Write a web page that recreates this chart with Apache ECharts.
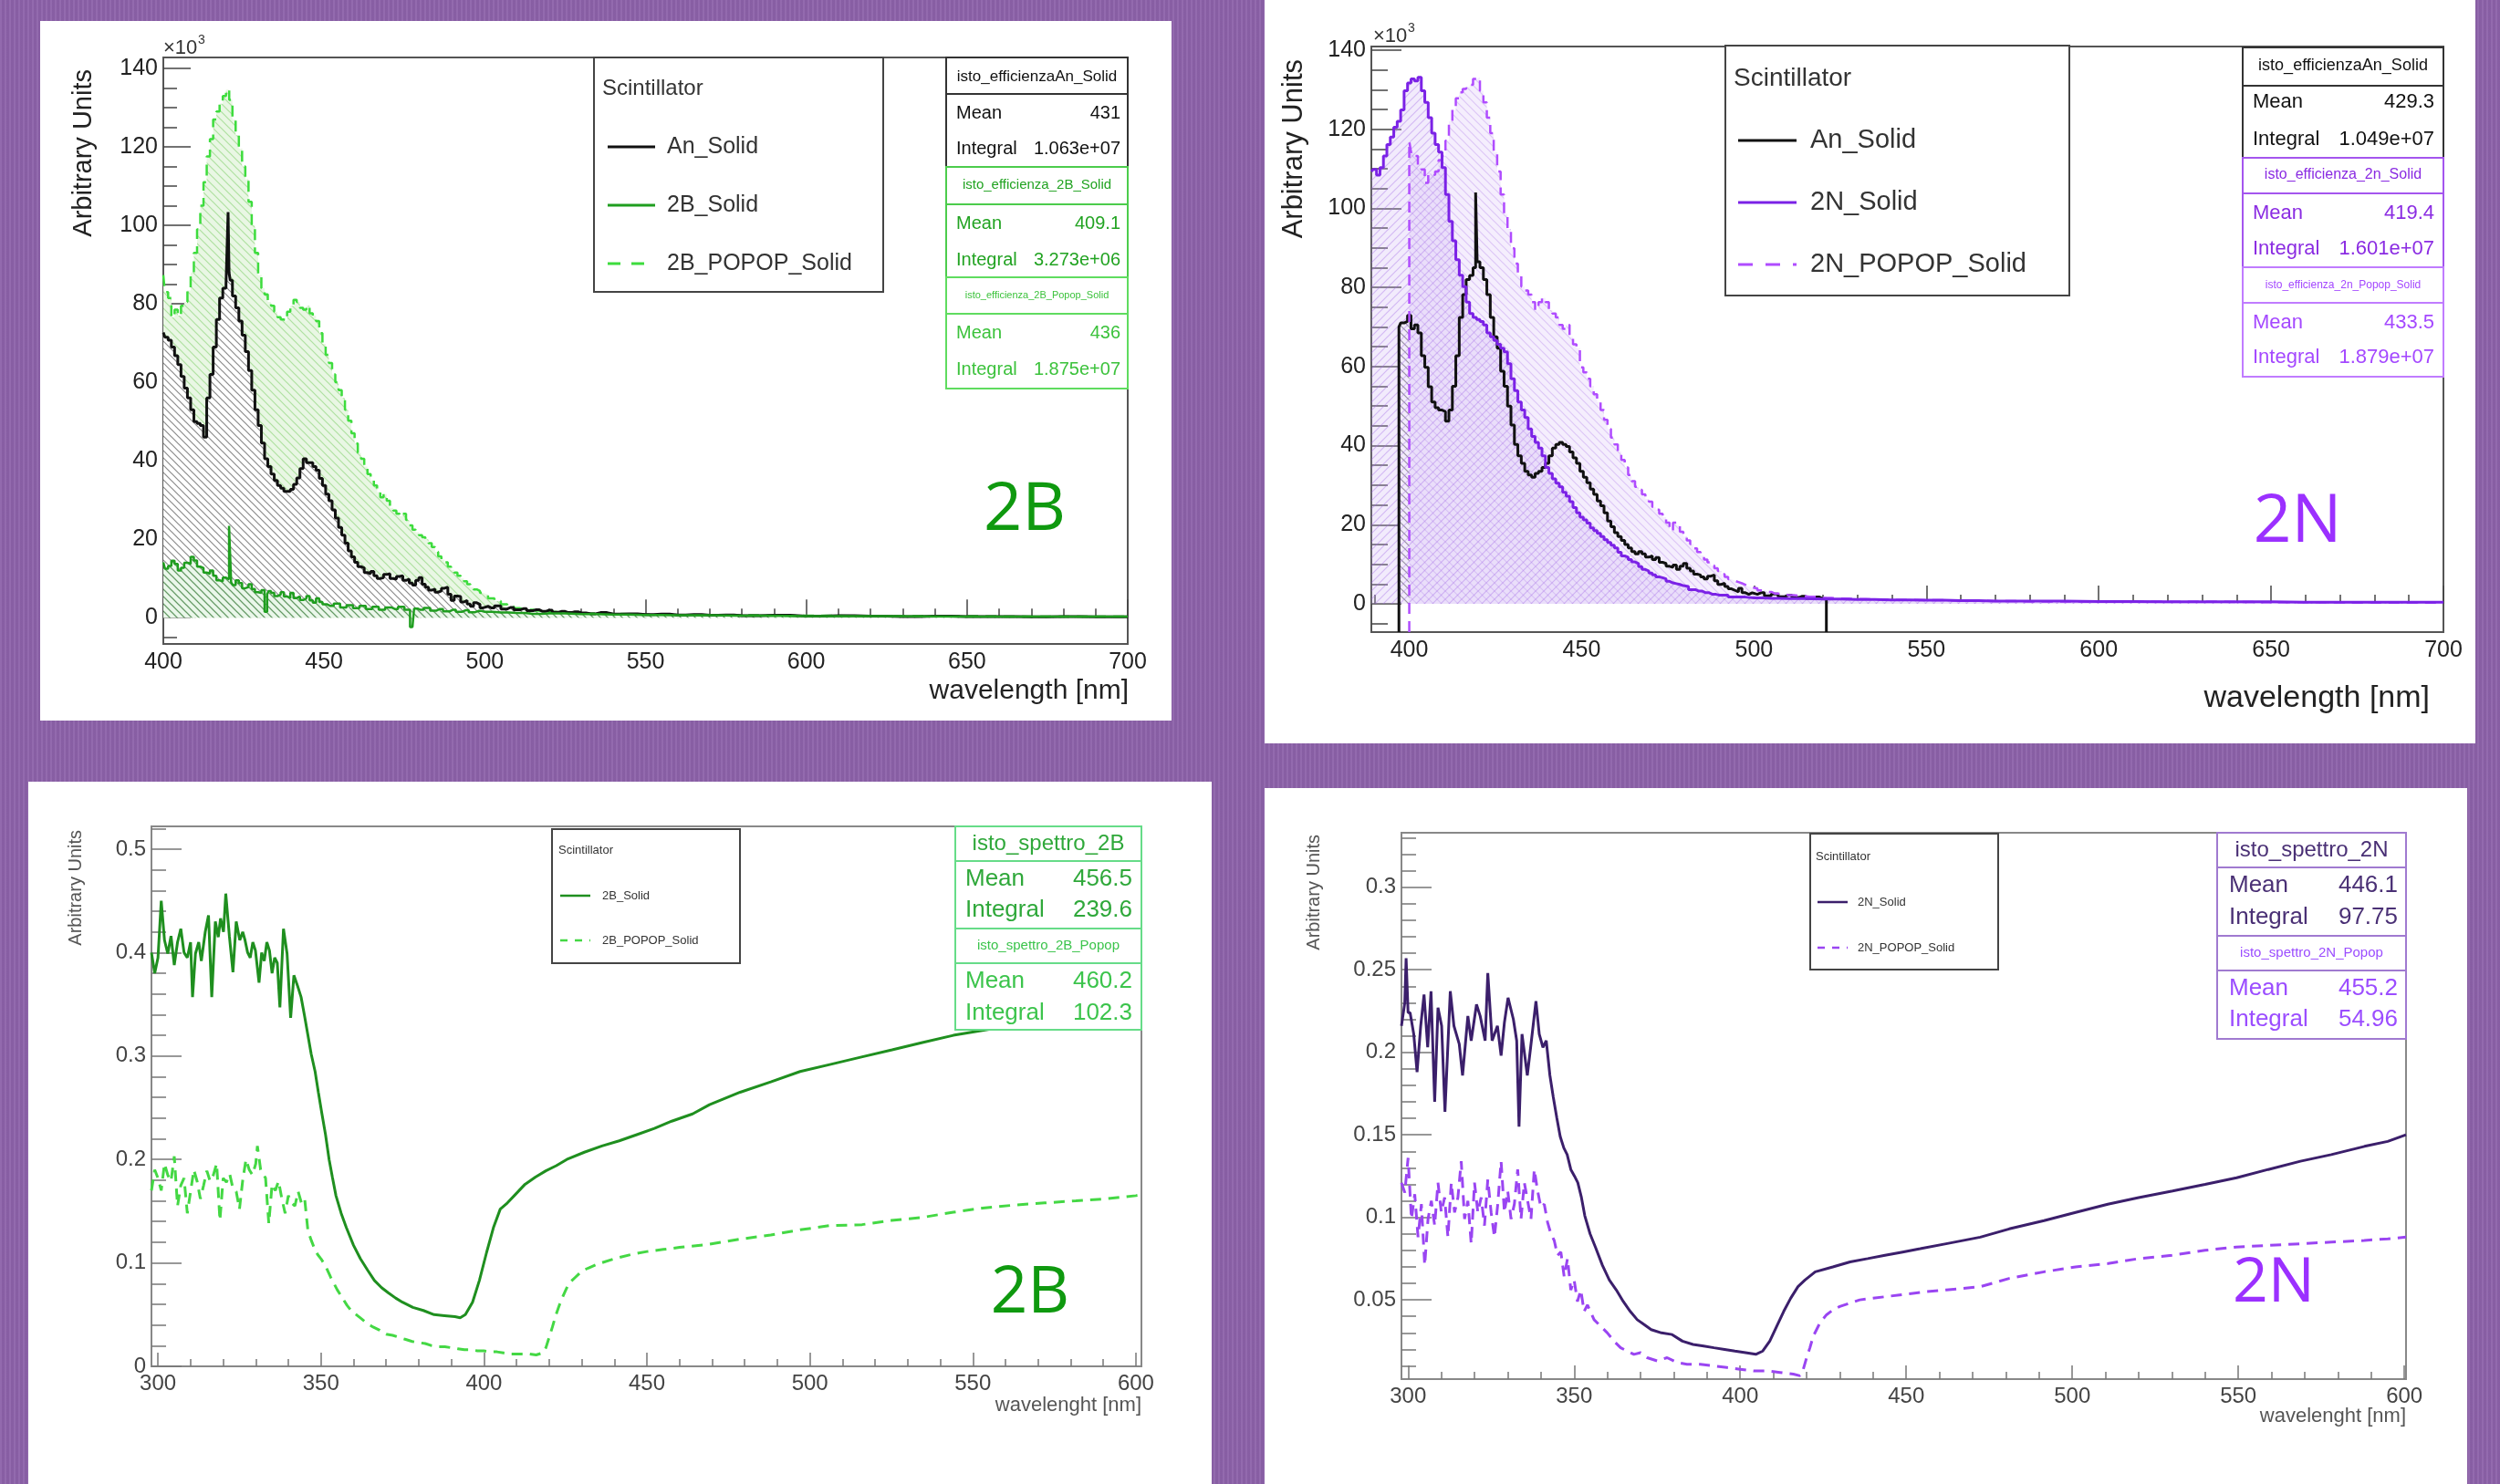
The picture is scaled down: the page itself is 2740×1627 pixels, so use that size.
<!DOCTYPE html>
<html>
<head>
<meta charset="utf-8">
<script src="https://cdn.jsdelivr.net/npm/echarts@6/dist/echarts.min.js"></script>
<style>
  html, body { margin: 0; padding: 0; }
  body {
    width: 2740px; height: 1627px; position: relative; overflow: hidden;
    background-color: #8d62aa;
    background-image: repeating-linear-gradient(90deg, rgba(255,255,255,0.05) 0px, rgba(255,255,255,0.05) 2px, rgba(0,0,0,0.04) 2px, rgba(0,0,0,0.04) 5px);
  }
  .panel { position: absolute; background: #fff; }
</style>
</head>
<body>
<div id="tl" class="panel" style="left:44px;top:23px;width:1240px;height:767px"></div>
<div id="tr" class="panel" style="left:1386px;top:0px;width:1327px;height:815px"></div>
<div id="bl" class="panel" style="left:31px;top:857px;width:1297px;height:770px"></div>
<div id="br" class="panel" style="left:1386px;top:864px;width:1318px;height:763px"></div>
<script>
// ---- tick labels ----
const effXLabels = [400, 450, 500, 550, 600, 650, 700];
const effYLabels = [0, 20, 40, 60, 80, 100, 120, 140];
const specXLabels = [300, 350, 400, 450, 500, 550, 600];
const spec2BYLabels = [0, 0.1, 0.2, 0.3, 0.4, 0.5];
const spec2NYLabels = [0.05, 0.1, 0.15, 0.2, 0.25, 0.3];

// ---- efficiency spectra, 2B panel (x10^3) [wavelength nm, value] ----
const tlAnSolid = [[400,72.7],[401,71.5],[402,70.7],[403,69],[404,66.8],[405,64.5],[406,61.5],[407,58.5],[408,56],[409,53],[410,50],[411,49.5],[412,49],[413,46],[414,56],[415,62],[416,69],[417,76],[418,81.5],[419,84],[420,85],[420.3,103.4],[420.6,88],[421,86],[422,82],[423,79],[424,75.6],[425,72],[426,67.8],[427,63],[428,58],[429,53],[430,49],[431,44.5],[432,40.5],[433,38.5],[434,36.6],[435,35],[436,33.7],[437,33],[438,32.2],[439,32.2],[440,32.7],[441,34],[442,35.6],[443,38],[444,40.5],[445,39.5],[446,39.5],[447,38.5],[448,37.6],[449,35.5],[450,33.7],[451,31.5],[452,29.8],[453,27.5],[454,25.4],[455,23],[456,21],[457,19],[458,17],[459,15.5],[460,14.1],[461,13],[462,12.7],[463,11.5],[464,11.2],[465,11.8],[466,10.7],[467,10],[468,10.2],[469,11],[470,11.2],[471,10],[472,9.8],[473,10.5],[474,10.7],[475,9.5],[476,9.8],[477,8.8],[478,8.3],[479,9.5],[480,10.2],[481,8.5],[482,7.8],[483,7],[484,7.3],[485,6.5],[486,6.8],[487,7.5],[488,7.8],[489,6],[490,4.4],[491,5.5],[492,5.4],[493,4],[494,4.4],[495,3.5],[496,2.9],[497,3.8],[498,3.4],[499,2.5],[500,2.9],[502,2.5],[504,3],[506,2.2],[508,2.6],[510,2],[512,2.3],[514,1.8],[516,2],[518,1.6],[520,1.9],[522,1.4],[524,1.6],[526,1.3],[528,1.5],[530,1.2],[533,1],[536,1.3],[540,0.9],[545,1],[550,0.8],[555,0.9],[560,0.7],[565,0.8],[570,0.6],[575,0.7],[580,0.5],[590,0.6],[600,0.4],[610,0.5],[620,0.4],[630,0.3],[640,0.4],[650,0.3],[660,0.3],[670,0.2],[680,0.3],[690,0.2],[700,0.2]];
const tl2BSolid = [[400,14.1],[401,12.5],[402,13.2],[403,14.5],[404,13.7],[405,12],[406,12.7],[407,14],[408,13.7],[409,15.5],[410,14.6],[411,13],[412,12.7],[413,11.5],[414,11.2],[415,12],[416,10.7],[417,9.5],[418,9.3],[419,10.2],[420,9.8],[420.9,23.4],[421.3,9],[422,8.3],[423,9.5],[424,8.8],[425,7.5],[426,7.8],[427,8.5],[428,7.3],[429,6.5],[430,6.3],[431,7],[432,1.5],[432.6,6],[433,6.8],[434,6.3],[435,5.5],[436,5.9],[437,6.5],[438,5.4],[439,5],[440,6.3],[441,5],[442,5.4],[443,4.5],[444,4.9],[445,5.5],[446,4.4],[447,3.8],[448,4.9],[449,4],[450,3.4],[452,3],[454,3.6],[456,2.6],[458,3.2],[460,2.4],[462,3],[464,2.2],[466,2.8],[468,2],[470,2.6],[472,2.2],[474,2.8],[476,2],[477.5,-2.4],[478.5,2.3],[480,2],[482,2.5],[484,1.8],[486,2.2],[488,1.6],[490,2],[492,1.5],[494,1.9],[496,1.4],[498,1.7],[500,1.5],[505,1.3],[510,1.2],[515,1],[520,1.1],[530,0.9],[540,0.8],[550,0.7],[560,0.6],[580,0.5],[600,0.4],[650,0.3],[700,0.3]];
const tl2BPopop = [[400,87.3],[401,83],[402,81.5],[403,76.6],[404,78.5],[405,77],[406,79.5],[407,80.5],[408,83.4],[409,88],[410,93],[411,99],[412,105],[413,111],[414,117.6],[415,122],[416,127],[417,129],[418,131],[419,133],[420,134.6],[421,132],[422,127],[423,123],[424,119.5],[425,115],[426,111.7],[427,106],[428,100],[429,93],[430,87.3],[431,84],[432,82.4],[433,80.5],[434,79.5],[435,78],[436,76.6],[437,76],[438,75.6],[439,78],[440,79.5],[441,81],[442,80.5],[443,79],[444,78.5],[445,79.5],[446,77.6],[447,77],[448,75.6],[449,72.5],[450,69.8],[451,67],[452,64.9],[453,62],[454,60],[455,58],[456,56],[457,53],[458,50.2],[459,47],[460,44.4],[461,42],[462,40.5],[463,38.5],[464,36.6],[465,35],[466,33.7],[467,32],[468,30.7],[469,31.5],[470,29.8],[471,28],[472,27.3],[473,26.5],[474,25.9],[475,26.5],[476,24.9],[477,23.5],[478,22.4],[479,21.8],[480,21],[481,20.5],[482,20],[483,19],[484,18],[485,16.8],[486,15.6],[487,14.8],[488,14.1],[489,13],[490,12.2],[491,11.5],[492,10.7],[493,10],[494,9.3],[495,8.5],[496,7.8],[497,7.2],[498,6.8],[499,6.3],[500,5.9],[502,4.9],[504,4.2],[506,3.4],[508,2.9],[510,2.4],[512,2.2],[514,2],[516,1.8],[518,1.7],[520,1.5],[524,1.3],[528,1.2],[532,1.1],[536,1],[540,1],[545,0.9],[550,0.8],[555,0.8],[560,0.7],[570,0.6],[580,0.6],[590,0.5],[600,0.5],[620,0.4],[640,0.4],[660,0.3],[680,0.3],[700,0.3]];

// ---- efficiency spectra, 2N panel (x10^3) ----
const trAnSolid = [[397,70],[398,71],[399,71.4],[400,72.9],[401,69.5],[402,70.5],[403,68.5],[404,62.7],[405,59.8],[406,54.9],[407,51],[408,49.6],[409,49],[410,48.6],[411,46.2],[412,49],[413,55],[414,62.7],[415,72.4],[416,78.2],[417,82],[418,83],[419,85],[419.5,104],[419.9,86.5],[420,86.5],[421,85],[422,82],[423,78.2],[424,72.4],[425,67.5],[426,64.6],[427,58.8],[428,55],[429,50],[430,45.2],[431,40.3],[432,37.4],[433,35.5],[434,33.5],[435,32.6],[436,32],[437,33],[438,33.5],[439,34.5],[440,35.5],[441,37.4],[442,39.4],[443,40.3],[444,40.8],[445,40.3],[446,39.8],[447,38.4],[448,36.9],[449,35.5],[450,33.5],[451,32],[452,30.6],[453,29],[454,27.7],[455,26],[456,24.8],[457,23],[458,20.9],[459,19.5],[460,18],[461,17],[462,16],[463,15],[464,14.1],[465,13.2],[466,12.6],[467,13.2],[468,12.6],[469,11.8],[470,12.1],[471,11.2],[472,11.7],[473,10.5],[474,10.2],[475,9.5],[476,9.2],[477,9.8],[478,8.7],[479,9.5],[480,10.2],[481,9],[482,8.3],[483,7.5],[484,7.3],[485,6.8],[486,6.3],[487,7],[488,7.3],[489,5.8],[490,4.9],[491,5.2],[492,4.4],[493,3.8],[494,3.4],[495,3],[496,3.9],[497,2.8],[498,2.4],[499,2.8],[500,2.4],[502,2.8],[504,2],[506,2.5],[508,1.8],[510,2.2],[512,1.6],[514,1.9],[516,1.4],[518,1.7],[520,1.3],[521,1.3]];
const tr2NSolid = [[389,109.3],[390,109.8],[391,108.4],[392,110.3],[393,113.2],[394,116.1],[395,118],[396,120.5],[397,122],[398,124.9],[399,129.7],[400,131.7],[401,132.7],[402,132.2],[403,133.1],[404,129.7],[405,126.8],[406,122.9],[407,119],[408,116.1],[409,114.2],[410,110.3],[411,103.5],[412,96.7],[413,91.8],[414,87],[415,83.1],[416,80.2],[417,76.3],[418,73.4],[419,72.4],[420,71.9],[421,71.4],[422,70.5],[423,68.5],[424,67.5],[425,66.6],[426,65.6],[427,64.6],[428,63.7],[429,60.7],[430,56.9],[431,53.9],[432,51],[433,49],[434,47.1],[435,44.2],[436,42.3],[437,40.8],[438,39.4],[439,37.4],[440,34.5],[441,33],[442,31.6],[443,30.5],[444,29.6],[445,28.2],[446,27.2],[447,25.8],[448,24.3],[449,23],[450,21.9],[451,21.2],[452,20.4],[453,19.2],[454,18.5],[455,17.8],[456,17],[457,16.2],[458,15.5],[459,14.8],[460,14.1],[461,13],[462,12.1],[463,11.8],[464,11.2],[465,10.6],[466,10.2],[467,9.4],[468,8.7],[469,8.3],[470,7.8],[471,7.3],[472,6.8],[473,6.6],[474,6.3],[475,5.7],[476,5.3],[477,5.1],[478,4.9],[479,4.6],[480,4.4],[482,3.6],[484,3.2],[486,2.8],[488,2.4],[490,2.2],[495,1.7],[500,1.5],[505,1.4],[510,1.3],[520,1.2],[530,1.1],[540,1],[550,0.9],[560,0.8],[570,0.7],[580,0.7],[600,0.6],[620,0.5],[640,0.5],[660,0.4],[680,0.4],[700,0.4]];
const tr2NPopop = [[400,117],[401,114.2],[402,113.2],[403,110.3],[404,109.8],[405,106.4],[406,108.8],[407,108.4],[408,109.3],[409,112.2],[410,113.2],[411,117.1],[412,122],[413,124.9],[414,127.8],[415,129.3],[416,130.2],[417,130.7],[418,131.2],[419,132.7],[420,133.1],[421,129.7],[422,126.8],[423,122.9],[424,119],[425,114.2],[426,109.3],[427,103.5],[428,98.6],[429,94.8],[430,89.9],[431,86],[432,83.1],[433,80.2],[434,79.2],[435,78.2],[436,76.3],[437,74.3],[438,76.3],[439,77.3],[440,76.3],[441,74.3],[442,73.4],[443,72.4],[444,70.5],[445,69.5],[446,70.5],[447,67.5],[448,65.6],[449,64.6],[450,59.8],[451,58.5],[452,56.9],[453,55],[454,53],[455,51],[456,49],[457,46.5],[458,44.2],[459,42],[460,40.3],[461,38.5],[462,36.4],[463,34.5],[464,32.6],[465,31],[466,29.6],[467,28.8],[468,27.7],[469,26.5],[470,25.8],[471,24.5],[472,23.8],[473,22.8],[474,21.9],[475,20.5],[476,18.5],[477,20.5],[478,19.9],[479,18.2],[480,17],[481,16],[482,15.1],[483,14],[484,13.1],[485,12.2],[486,11.2],[487,10.5],[488,9.7],[489,9],[490,8.3],[491,7.5],[492,6.8],[493,6.2],[494,5.8],[495,5.5],[496,5.2],[497,4.8],[498,4.4],[499,4.1],[500,3.9],[502,3.4],[504,3],[506,2.6],[508,2.4],[510,2.2],[513,2],[516,1.8],[520,1.5],[525,1.3],[530,1.2],[535,1.1],[540,1],[550,0.9],[560,0.8],[570,0.7],[580,0.6],[600,0.5],[620,0.5],[650,0.4],[675,0.3],[700,0.3]];

// ---- transmission spectra, 2B panel ----
const bl2BSolid = [[298,0.4],[299,0.38],[300,0.395],[301,0.45],[302,0.412],[303,0.399],[304,0.416],[305,0.388],[306,0.41],[307,0.423],[308,0.4],[309,0.395],[310,0.41],[310.6,0.357],[311.5,0.399],[312.5,0.41],[313.3,0.392],[314.5,0.42],[315.5,0.436],[316.5,0.357],[317.6,0.43],[318.5,0.415],[319.2,0.433],[320.1,0.42],[320.8,0.457],[321.9,0.416],[323,0.381],[324,0.43],[325.1,0.412],[326,0.42],[326.7,0.412],[327.5,0.4],[328.3,0.395],[329.1,0.41],[329.9,0.402],[331,0.371],[331.8,0.4],[332.6,0.392],[333.4,0.41],[334.2,0.402],[335,0.38],[335.8,0.395],[336.6,0.39],[337.4,0.347],[338.5,0.423],[339.6,0.399],[340.7,0.337],[341.7,0.378],[342.8,0.368],[343.9,0.357],[344.9,0.34],[346,0.32],[347,0.302],[348.2,0.285],[349.2,0.265],[350.3,0.244],[351.4,0.224],[352.5,0.2],[353.5,0.183],[354.6,0.165],[356.2,0.148],[357.8,0.134],[360,0.117],[362.1,0.104],[364.3,0.093],[366.4,0.083],[368.6,0.076],[370.7,0.071],[372.9,0.066],[375,0.062],[378.2,0.057],[381.4,0.054],[384.7,0.05],[387.9,0.049],[391.1,0.048],[392.7,0.047],[394.3,0.05],[396.5,0.062],[398.6,0.083],[400.8,0.11],[402.9,0.134],[405,0.152],[407.2,0.158],[409.3,0.165],[412.6,0.176],[415.8,0.183],[419,0.189],[422.2,0.194],[425.4,0.2],[430.8,0.207],[436.2,0.213],[441.5,0.218],[446.9,0.224],[452.3,0.23],[457.6,0.237],[464,0.244],[469.2,0.253],[478.6,0.265],[488,0.275],[497,0.285],[506.4,0.292],[515.8,0.299],[525.2,0.306],[534.5,0.313],[544,0.32],[553.3,0.325],[565,0.331],[580,0.336],[590,0.34],[601.7,0.345]];
const bl2BPopop = [[298,0.17],[299,0.19],[300,0.182],[301,0.17],[302,0.196],[303,0.185],[304,0.179],[305,0.203],[306,0.155],[307,0.175],[308,0.182],[309,0.148],[310,0.169],[311,0.19],[312,0.179],[313,0.162],[314,0.175],[315,0.189],[316,0.179],[317,0.185],[318,0.196],[319,0.141],[320,0.182],[321,0.178],[322,0.186],[323,0.172],[324,0.169],[325,0.152],[326,0.18],[327,0.2],[328,0.19],[329,0.185],[330,0.196],[330.5,0.213],[331.5,0.19],[332,0.189],[333,0.182],[334,0.138],[335,0.176],[336,0.17],[337,0.179],[338,0.162],[339,0.148],[340,0.165],[341,0.158],[342,0.155],[343,0.169],[344,0.158],[345,0.162],[346,0.131],[347,0.122],[348,0.114],[349,0.108],[350,0.104],[351,0.099],[352,0.093],[353,0.086],[354,0.08],[355,0.074],[356,0.069],[357,0.064],[358,0.059],[359,0.055],[360,0.052],[362,0.047],[364,0.042],[366,0.038],[368,0.035],[370,0.031],[372,0.03],[374,0.028],[376,0.026],[378,0.024],[380,0.023],[382,0.022],[384,0.02],[386,0.019],[388,0.019],[390,0.018],[392,0.017],[394,0.016],[396,0.016],[398,0.015],[400,0.015],[402,0.014],[404,0.014],[406,0.013],[408,0.012],[410,0.012],[412,0.012],[414,0.012],[416,0.011],[418,0.013],[419,0.018],[420,0.028],[421,0.038],[422,0.049],[423,0.058],[424,0.066],[425,0.073],[426,0.08],[427,0.083],[428,0.086],[429,0.089],[430,0.092],[432,0.095],[435,0.099],[440,0.104],[445,0.108],[450,0.111],[455,0.113],[460,0.115],[469,0.118],[478.6,0.123],[488,0.127],[497,0.132],[506,0.136],[516,0.137],[525,0.141],[534.5,0.144],[544,0.149],[553,0.153],[563,0.156],[572,0.158],[581.6,0.16],[591,0.162],[600,0.165],[601.7,0.166]];

// ---- transmission spectra, 2N panel ----
const br2NSolid = [[298,0.216],[299,0.23],[299.4,0.257],[300,0.224],[300.6,0.224],[301.7,0.211],[302.7,0.188],[303.8,0.216],[304.8,0.235],[305.9,0.203],[306.9,0.237],[308,0.17],[309,0.227],[310.1,0.216],[311.1,0.164],[312.7,0.237],[313.8,0.216],[315.4,0.205],[316.4,0.186],[318,0.222],[319,0.207],[320.6,0.229],[321.7,0.222],[323.2,0.207],[324,0.248],[325.3,0.207],[326.9,0.216],[328,0.198],[329,0.218],[330.1,0.233],[331.7,0.22],[332.7,0.207],[333.4,0.155],[334.3,0.211],[335.9,0.186],[336.9,0.203],[338.5,0.231],[339.5,0.211],[340.6,0.203],[341.6,0.207],[342.7,0.186],[343.7,0.173],[344.8,0.16],[345.8,0.149],[346.9,0.142],[347.9,0.138],[349,0.129],[350.1,0.125],[351.1,0.121],[352.2,0.112],[353.2,0.101],[354.8,0.09],[356.4,0.082],[358.5,0.071],[360.6,0.062],[362.7,0.056],[364.8,0.049],[366.9,0.043],[369,0.038],[371.1,0.035],[373.2,0.032],[376.3,0.03],[379.5,0.029],[382.6,0.025],[385.8,0.023],[389,0.022],[392.1,0.021],[395.3,0.02],[398.4,0.019],[401.6,0.018],[404.7,0.017],[406.8,0.019],[408.9,0.025],[411,0.034],[413.1,0.043],[415.2,0.051],[417.4,0.058],[419.5,0.062],[422.6,0.067],[427.9,0.07],[433.1,0.073],[438.4,0.075],[443.6,0.077],[448.9,0.079],[454.2,0.081],[462,0.084],[472.3,0.088],[481,0.093],[491.5,0.098],[501,0.103],[510.7,0.108],[520,0.112],[530.2,0.116],[540,0.12],[549.5,0.124],[559,0.129],[568.7,0.134],[578,0.138],[588,0.143],[595,0.146],[600.5,0.15]];
const br2NPopop = [[298,0.121],[299,0.115],[300,0.136],[301,0.099],[302,0.114],[303,0.088],[304,0.108],[305,0.071],[306,0.099],[307,0.11],[308,0.095],[309,0.121],[310,0.103],[311,0.112],[312,0.088],[313,0.121],[314,0.103],[315,0.112],[316,0.134],[317,0.099],[318,0.11],[319,0.084],[320,0.121],[321,0.103],[322,0.112],[323,0.095],[324,0.123],[325,0.103],[326,0.088],[327,0.108],[328,0.134],[329,0.103],[330,0.116],[331,0.099],[332,0.108],[333,0.129],[334,0.099],[335,0.121],[336,0.11],[337,0.099],[338,0.129],[339,0.116],[340,0.106],[341,0.108],[342,0.097],[343,0.09],[344,0.086],[345,0.077],[346,0.079],[347,0.064],[348,0.075],[349,0.056],[350,0.062],[351,0.049],[352,0.056],[353,0.043],[354,0.047],[356,0.038],[358,0.034],[360,0.03],[362,0.025],[364,0.021],[366,0.019],[368,0.017],[370,0.018],[372,0.015],[375,0.013],[378,0.015],[381,0.012],[384,0.011],[388,0.011],[392,0.01],[396,0.009],[400,0.008],[404,0.007],[408,0.007],[412,0.006],[416,0.005],[418,0.004],[419,0.008],[420,0.015],[421,0.021],[422,0.028],[423,0.032],[424,0.036],[426,0.041],[428,0.044],[430,0.046],[433,0.048],[436,0.05],[440,0.051],[444,0.052],[448,0.053],[452,0.054],[456,0.055],[462,0.056],[472.3,0.058],[481,0.063],[491.5,0.067],[501,0.07],[510.8,0.072],[520,0.075],[530,0.077],[540,0.08],[549.3,0.082],[559,0.083],[568.6,0.084],[578,0.085],[587.9,0.086],[595,0.087],[600.5,0.088]];

const FONT = "'Liberation Sans', Arial, sans-serif";

function ticks(a, b, step) {
  const out = [];
  for (let v = a; v <= b + step / 1000; v += step) out.push(Math.round(v * 1e6) / 1e6);
  return out;
}

function hatch(color, dir, bg, size, lw) {
  const c = document.createElement('canvas');
  c.width = size; c.height = size;
  const g = c.getContext('2d');
  if (bg) { g.fillStyle = bg; g.fillRect(0, 0, size, size); }
  g.strokeStyle = color;
  g.lineWidth = lw;
  g.beginPath();
  if (dir === '/') {
    g.moveTo(0, size); g.lineTo(size, 0);
    g.moveTo(-size / 2, size / 2); g.lineTo(size / 2, -size / 2);
    g.moveTo(size / 2, size * 1.5); g.lineTo(size * 1.5, size / 2);
  } else {
    g.moveTo(0, 0); g.lineTo(size, size);
    g.moveTo(-size / 2, size / 2); g.lineTo(size / 2, size * 1.5);
    g.moveTo(size / 2, -size / 2); g.lineTo(size * 1.5, size / 2);
  }
  g.stroke();
  return { image: c, repeat: 'repeat' };
}

function legendEls(L) {
  const els = [{
    type: 'rect', z: 100,
    shape: { x: L.box[0], y: L.box[1], width: L.box[2] - L.box[0], height: L.box[3] - L.box[1] },
    style: { fill: '#fff', stroke: '#444', lineWidth: 2 }
  }, {
    type: 'text', z: 101, x: L.title[0], y: L.title[1],
    style: { text: 'Scintillator', font: L.titleSize + 'px ' + FONT, fill: '#333', textVerticalAlign: 'middle' }
  }];
  L.items.forEach(it => {
    els.push({
      type: 'line', z: 101,
      shape: { x1: L.sample[0], y1: it.y, x2: L.sample[1], y2: it.y },
      style: { stroke: it.color, lineWidth: it.width, lineDash: it.dash || null }
    });
    els.push({
      type: 'text', z: 101, x: L.textX, y: it.y,
      style: { text: it.name, font: L.size + 'px ' + FONT, fill: '#333', textVerticalAlign: 'middle' }
    });
  });
  return els;
}

function statsEls(S) {
  const els = [];
  const cx = (S.x0 + S.x1) / 2;
  S.boxes.forEach(b => {
    els.push({
      type: 'rect', z: 100,
      shape: { x: S.x0, y: b.y0, width: S.x1 - S.x0, height: b.y1 - b.y0 },
      style: { fill: '#fff', stroke: b.color, lineWidth: 2 }
    });
    els.push({
      type: 'line', z: 101,
      shape: { x1: S.x0, y1: b.line, x2: S.x1, y2: b.line },
      style: { stroke: b.color, lineWidth: 2 }
    });
    els.push({
      type: 'text', z: 101, x: cx, y: b.titleY,
      style: { text: b.title, font: b.titleSize + 'px ' + FONT, fill: b.text, textAlign: 'center', textVerticalAlign: 'middle' }
    });
    b.rows.forEach(r => {
      els.push({
        type: 'text', z: 101, x: S.tx0, y: r[2],
        style: { text: r[0], font: S.size + 'px ' + FONT, fill: b.text, textVerticalAlign: 'middle' }
      });
      els.push({
        type: 'text', z: 101, x: S.tx1, y: r[2],
        style: { text: r[1], font: S.size + 'px ' + FONT, fill: b.text, textAlign: 'right', textVerticalAlign: 'middle' }
      });
    });
  });
  return els;
}

function buildPanel(id, p) {
  const chart = echarts.init(document.getElementById(id), null, { renderer: 'canvas' });
  const tickStyle = { color: p.tickColor, width: 1.5 };
  const xAxes = [{
    type: 'value', min: p.x[0], max: p.x[1], position: 'bottom',
    axisLine: { show: false }, splitLine: { show: false },
    axisTick: { inside: true, length: p.tickLen[0], customValues: p.xMajor, lineStyle: tickStyle },
    axisLabel: { customValues: p.xMajor, margin: p.xLabelMargin, color: p.labelColor, fontFamily: FONT, fontSize: p.labelSize }
  }, {
    type: 'value', min: p.x[0], max: p.x[1], position: 'bottom',
    axisLine: { show: false }, splitLine: { show: false }, axisLabel: { show: false },
    axisTick: { inside: true, length: p.tickLen[1], customValues: p.xMinor, lineStyle: tickStyle }
  }];
  const yAxes = [{
    type: 'value', min: p.y[0], max: p.y[1], position: 'left',
    axisLine: { show: false }, splitLine: { show: false },
    axisTick: { inside: true, length: p.tickLen[2], customValues: p.yMajor, lineStyle: tickStyle },
    axisLabel: { customValues: p.yMajor, margin: 6, color: p.labelColor, fontFamily: FONT, fontSize: p.labelSize }
  }, {
    type: 'value', min: p.y[0], max: p.y[1], position: 'left',
    axisLine: { show: false }, splitLine: { show: false }, axisLabel: { show: false },
    axisTick: { inside: true, length: p.tickLen[3], customValues: p.yMinor, lineStyle: tickStyle }
  }];

  const areas = [];
  const lines = [];
  p.hists.forEach(h => {
    if (h.fill) {
      areas.push({
        type: 'line', data: h.data, step: h.step, symbol: 'none', silent: true, z: 1,
        lineStyle: { width: 0, opacity: 0 }, areaStyle: { color: h.fill, opacity: 1 }
      });
    }
    const d = h.data.slice();
    if (h.dropLeft) d.unshift([d[0][0], p.y[0]]);
    if (h.dropRight) d.push([d[d.length - 1][0], p.y[0]]);
    lines.push({
      type: 'line', name: h.name, data: d, step: h.step, symbol: 'none', z: 3,
      lineStyle: { color: h.color, width: h.width, type: h.dash || 'solid' }
    });
  });

  let graphics = [];
  // axis titles
  graphics.push({
    type: 'text', x: p.yTitle[0], y: p.yTitle[1], rotation: Math.PI / 2,
    style: { text: 'Arbitrary Units', font: p.yTitle[2] + 'px ' + FONT, fill: p.titleColor, textAlign: 'right', textVerticalAlign: 'middle' }
  });
  graphics.push({
    type: 'text', x: p.xTitle[0], y: p.xTitle[1],
    style: { text: p.xTitleText, font: p.xTitle[2] + 'px ' + FONT, fill: p.titleColor, textAlign: 'right', textVerticalAlign: 'middle' }
  });
  if (p.exponent) {
    graphics.push({ type: 'text', x: p.exponent[0], y: p.exponent[1],
      style: { text: '\u00d710', font: '22px ' + FONT, fill: '#333', textVerticalAlign: 'middle' } });
    graphics.push({ type: 'text', x: p.exponent[0] + 38, y: p.exponent[1] - 9,
      style: { text: '3', font: '14px ' + FONT, fill: '#333', textVerticalAlign: 'middle' } });
  }
  graphics = graphics.concat(legendEls(p.legend), statsEls(p.stats));
  graphics.push({
    type: 'text', z: 102, x: p.tag[0], y: p.tag[1],
    style: { text: p.tag[2], font: p.tag[3] + "px 'Open Sans', 'Noto Sans', sans-serif", fill: p.tag[4], textAlign: 'center', textVerticalAlign: 'middle' }
  });

  chart.setOption({
    animation: false,
    grid: {
      left: p.grid[0], top: p.grid[1], right: p.grid[2], bottom: p.grid[3],
      show: true, borderColor: p.frameColor, borderWidth: 2, backgroundColor: 'rgba(0,0,0,0)'
    },
    xAxis: xAxes,
    yAxis: yAxes,
    series: areas.concat(lines),
    graphic: { elements: graphics }
  });
  return chart;
}

// ---- panel: efficiency 2B ----
buildPanel('tl', {
  grid: [135, 40, 48, 84],
  x: [400, 700], y: [-6.7, 142.8],
  xMajor: effXLabels, xMinor: ticks(400, 700, 10),
  yMajor: effYLabels, yMinor: ticks(-5, 140, 5),
  tickLen: [20, 10, 30, 15], tickColor: '#444', frameColor: '#555',
  labelColor: '#222', labelSize: 25, xLabelMargin: 8, titleColor: '#222',
  yTitle: [48, 53, 29], xTitle: [1193, 735, 30], xTitleText: 'wavelength [nm]',
  exponent: [135, 30],
  hists: [
    { name: '2B_POPOP_Solid', data: tl2BPopop, step: 'middle', color: '#3ddc3d', width: 2.5, dash: [12, 8],
      fill: hatch('#aee0a0', '\\', '#e9f7e4', 9, 1.2) },
    { name: 'An_Solid', data: tlAnSolid, step: 'middle', color: '#111', width: 3,
      fill: hatch('#8c8c8c', '\\', '#ffffff', 8, 1.2) },
    { name: '2B_Solid', data: tl2BSolid, step: 'middle', color: '#1f9e1f', width: 2.5,
      fill: hatch('rgba(40,150,40,0.45)', '\\', 'rgba(150,215,150,0.2)', 8, 1.2) }
  ],
  legend: {
    box: [607, 40, 924, 297], title: [616, 74], titleSize: 24, size: 25,
    sample: [622, 674], textX: 687,
    items: [
      { name: 'An_Solid', y: 138, color: '#111', width: 3 },
      { name: '2B_Solid', y: 202, color: '#1f9e1f', width: 3 },
      { name: '2B_POPOP_Solid', y: 266, color: '#3ddc3d', width: 3, dash: [14, 12] }
    ]
  },
  stats: {
    x0: 993, x1: 1192, tx0: 1004, tx1: 1184, size: 20,
    boxes: [
      { y0: 40, y1: 160, line: 80, color: '#333', text: '#111', title: 'isto_efficienzaAn_Solid', titleY: 61, titleSize: 17,
        rows: [['Mean', '431', 101], ['Integral', '1.063e+07', 140]] },
      { y0: 160, y1: 281, line: 201, color: '#4ccc4c', text: '#22a322', title: 'isto_efficienza_2B_Solid', titleY: 180, titleSize: 15,
        rows: [['Mean', '409.1', 222], ['Integral', '3.273e+06', 262]] },
      { y0: 281, y1: 403, line: 321, color: '#5fdc5f', text: '#3cc23c', title: 'isto_efficienza_2B_Popop_Solid', titleY: 301, titleSize: 11,
        rows: [['Mean', '436', 342], ['Integral', '1.875e+07', 382]] }
    ]
  },
  tag: [1079, 537, '2B', 74, '#0f990f']
});

// ---- panel: efficiency 2N ----
buildPanel('tr', {
  grid: [117, 51, 35, 122],
  x: [389, 700], y: [-7.15, 140.9],
  xMajor: effXLabels, xMinor: ticks(390, 700, 10),
  yMajor: effYLabels, yMinor: ticks(-5, 140, 5),
  tickLen: [20, 10, 33, 18], tickColor: '#444', frameColor: '#555',
  labelColor: '#222', labelSize: 25, xLabelMargin: 8, titleColor: '#222',
  yTitle: [32, 65, 31], xTitle: [1277, 766, 34], xTitleText: 'wavelength [nm]',
  exponent: [119, 40],
  hists: [
    { name: 'An_Solid', data: trAnSolid, step: 'middle', color: '#111', width: 3, dropLeft: true, dropRight: true,
      fill: hatch('#8a8a8a', '\\', '#ffffff', 8, 1.2) },
    { name: '2N_POPOP_Solid', data: tr2NPopop, step: 'middle', color: '#b04cff', width: 2.5, dash: [12, 8], dropLeft: true,
      fill: hatch('#dcc6f6', '\\', '#f5eefd', 9, 1.2) },
    { name: '2N_Solid', data: tr2NSolid, step: 'middle', color: '#7b22e6', width: 3,
      fill: hatch('rgba(165,110,230,0.4)', '/', 'rgba(205,175,242,0.25)', 9, 1.2) }
  ],
  legend: {
    box: [505, 50, 882, 324], title: [514, 86], titleSize: 28, size: 29,
    sample: [519, 583], textX: 598,
    items: [
      { name: 'An_Solid', y: 154, color: '#111', width: 3 },
      { name: '2N_Solid', y: 222, color: '#7b22e6', width: 3 },
      { name: '2N_POPOP_Solid', y: 290, color: '#b04cff', width: 3, dash: [16, 14] }
    ]
  },
  stats: {
    x0: 1072, x1: 1292, tx0: 1083, tx1: 1282, size: 22,
    boxes: [
      { y0: 52, y1: 173, line: 94, color: '#333', text: '#111', title: 'isto_efficienzaAn_Solid', titleY: 72, titleSize: 18,
        rows: [['Mean', '429.3', 112], ['Integral', '1.049e+07', 153]] },
      { y0: 173, y1: 293, line: 212, color: '#a455ee', text: '#8a2be2', title: 'isto_efficienza_2n_Solid', titleY: 192, titleSize: 16,
        rows: [['Mean', '419.4', 234], ['Integral', '1.601e+07', 273]] },
      { y0: 293, y1: 413, line: 332, color: '#c07cff', text: '#a448ff', title: 'isto_efficienza_2n_Popop_Solid', titleY: 313, titleSize: 12,
        rows: [['Mean', '433.5', 354], ['Integral', '1.879e+07', 392]] }
    ]
  },
  tag: [1132, 573, '2N', 73, '#9b30ff']
});

// ---- panel: transmission 2B ----
buildPanel('bl', {
  grid: [135, 49, 77, 129],
  x: [298, 601.7], y: [0, 0.522],
  xMajor: specXLabels, xMinor: ticks(300, 600, 10),
  yMajor: spec2BYLabels, yMinor: ticks(0.02, 0.52, 0.02),
  tickLen: [15, 8, 33, 16], tickColor: '#777', frameColor: '#888',
  labelColor: '#444', labelSize: 24, xLabelMargin: 7, titleColor: '#555',
  yTitle: [52, 53, 20], xTitle: [1220, 684, 22], xTitleText: 'wavelenght [nm]',
  hists: [
    { name: '2B_Solid', data: bl2BSolid, color: '#1f8f1f', width: 3 },
    { name: '2B_POPOP_Solid', data: bl2BPopop, color: '#44d844', width: 3, dash: [12, 8] }
  ],
  legend: {
    box: [574, 52, 780, 199], title: [581, 75], titleSize: 13, size: 13,
    sample: [583, 616], textX: 629,
    items: [
      { name: '2B_Solid', y: 125, color: '#1f8f1f', width: 2.5 },
      { name: '2B_POPOP_Solid', y: 174, color: '#44d844', width: 2.5, dash: [8, 8] }
    ]
  },
  stats: {
    x0: 1016, x1: 1220, tx0: 1027, tx1: 1210, size: 26,
    boxes: [
      { y0: 49, y1: 161, line: 87, color: '#66dc88', text: '#2fa83a', title: 'isto_spettro_2B', titleY: 68, titleSize: 24,
        rows: [['Mean', '456.5', 107], ['Integral', '239.6', 141]] },
      { y0: 161, y1: 272, line: 199, color: '#66dc88', text: '#3cc44c', title: 'isto_spettro_2B_Popop', titleY: 180, titleSize: 15,
        rows: [['Mean', '460.2', 219], ['Integral', '102.3', 254]] }
    ]
  },
  tag: [1098, 562, '2B', 71, '#0f990f']
});

// ---- panel: transmission 2N ----
buildPanel('br', {
  grid: [150, 49, 67, 115],
  x: [298, 600.5], y: [0.002, 0.333],
  xMajor: specXLabels, xMinor: ticks(300, 600, 10),
  yMajor: spec2NYLabels, yMinor: ticks(0.01, 0.33, 0.01),
  tickLen: [15, 8, 33, 16], tickColor: '#777', frameColor: '#888',
  labelColor: '#444', labelSize: 24, xLabelMargin: 7, titleColor: '#555',
  yTitle: [54, 51, 20], xTitle: [1251, 689, 22], xTitleText: 'wavelenght [nm]',
  hists: [
    { name: '2N_Solid', data: br2NSolid, color: '#3b1f6b', width: 3 },
    { name: '2N_POPOP_Solid', data: br2NPopop, color: '#9a45f2', width: 3, dash: [12, 8] }
  ],
  legend: {
    box: [598, 50, 804, 199], title: [604, 75], titleSize: 13, size: 13,
    sample: [606, 639], textX: 650,
    items: [
      { name: '2N_Solid', y: 125, color: '#3b1f6b', width: 2.5 },
      { name: '2N_POPOP_Solid', y: 175, color: '#9a45f2', width: 2.5, dash: [8, 8] }
    ]
  },
  stats: {
    x0: 1044, x1: 1251, tx0: 1057, tx1: 1242, size: 26,
    boxes: [
      { y0: 49, y1: 162, line: 87, color: '#a07ad0', text: '#4a3075', title: 'isto_spettro_2N', titleY: 68, titleSize: 24,
        rows: [['Mean', '446.1', 107], ['Integral', '97.75', 142]] },
      { y0: 162, y1: 275, line: 200, color: '#a07ad0', text: '#9b4dff', title: 'isto_spettro_2N_Popop', titleY: 181, titleSize: 15,
        rows: [['Mean', '455.2', 220], ['Integral', '54.96', 254]] }
    ]
  },
  tag: [1106, 544, '2N', 68, '#9b30ff']
});
</script>
</body>
</html>
